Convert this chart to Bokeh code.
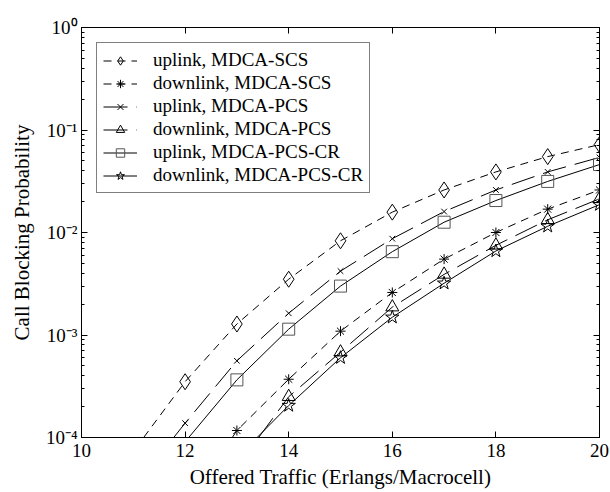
from bokeh.plotting import figure
from bokeh.models import (Range1d, LinearAxis, LogAxis, Legend, LegendItem,
                          CustomJSTickFormatter, FixedTicker, LogTicker)
from bokeh.embed import file_html
from bokeh.resources import INLINE

# ---- data ----
ul_scs_x = [12, 13, 14, 15, 16, 17, 18, 19, 20]
ul_scs_y = [3.5e-4, 1.28e-3, 3.5e-3, 8.3e-3, 1.58e-2, 2.6e-2, 3.9e-2, 5.5e-2, 7.2e-2]
ul_scs_x0 = 11.20

dl_scs_x = [13, 14, 15, 16, 17, 18, 19, 20]
dl_scs_y = [1.17e-4, 3.7e-4, 1.09e-3, 2.6e-3, 5.5e-3, 1.0e-2, 1.69e-2, 2.6e-2]
dl_scs_x0 = 12.91

ul_pcs_x = [12, 13, 14, 15, 16, 17, 18, 19, 20]
ul_pcs_y = [1.38e-4, 5.6e-4, 1.63e-3, 4.2e-3, 8.7e-3, 1.6e-2, 2.6e-2, 3.9e-2, 5.4e-2]
ul_pcs_x0 = 11.78

dl_pcs_x = [14, 15, 16, 17, 18, 19, 20]
dl_pcs_y = [2.5e-4, 6.8e-4, 1.87e-3, 3.9e-3, 7.5e-3, 1.33e-2, 2.13e-2]
dl_pcs_x0 = 13.42

ul_cr_x = [13, 14, 15, 16, 17, 18, 19, 20]
ul_cr_y = [3.65e-4, 1.14e-3, 3.0e-3, 6.5e-3, 1.26e-2, 2.05e-2, 3.15e-2, 4.6e-2]
ul_cr_x0 = 12.07

dl_cr_x = [14, 15, 16, 17, 18, 19, 20]
dl_cr_y = [2.05e-4, 6.0e-4, 1.49e-3, 3.2e-3, 6.6e-3, 1.15e-2, 1.87e-2]
dl_cr_x0 = 13.39

labels = ["uplink, MDCA-SCS", "downlink, MDCA-SCS", "uplink, MDCA-PCS",
          "downlink, MDCA-PCS", "uplink, MDCA-PCS-CR", "downlink, MDCA-PCS-CR"]

y_exponents = [-4, -3, -2, -1, 0]
y_tick_labels = ["10\u207b\u2074", "10\u207b\u00b3", "10\u207b\u00b2", "10\u207b\u00b9", "10\u2070"]
x_ticks = [10, 12, 14, 16, 18, 20]

FONT = "Liberation Serif"

p = figure(width=610, height=492, y_axis_type="log",
           x_range=Range1d(10, 20), y_range=Range1d(1e-4, 1),
           output_backend="svg", toolbar_location=None)
p.min_border_left = 81
p.min_border_right = 11
p.min_border_top = 27
p.min_border_bottom = 55
p.background_fill_color = "white"
p.border_fill_color = "white"
p.outline_line_color = "black"
p.outline_line_width = 1
p.xgrid.visible = False
p.ygrid.visible = False

# axes
xa = p.xaxis[0]
xa.ticker = FixedTicker(ticks=x_ticks)
xa.axis_label = "Offered Traffic (Erlangs/Macrocell)"
ya = p.yaxis[0]
ya.ticker = LogTicker(num_minor_ticks=10)
ya.formatter = CustomJSTickFormatter(
    args=dict(exps=y_exponents, labs=y_tick_labels),
    code="const e = Math.round(Math.log10(tick)); const i = exps.indexOf(e); return i >= 0 ? labs[i] : '';")
ya.axis_label = "Call Blocking Probability"
ya.major_label_standoff = 4
xa.major_label_standoff = 6

for ax in (xa, ya):
    ax.axis_label_text_font = FONT
    ax.axis_label_text_font_size = "21px"
    ax.axis_label_text_font_style = "normal"
    ax.axis_label_text_color = "black"
    ax.major_label_text_font = FONT
    ax.major_label_text_font_size = "19px"
    ax.major_label_text_color = "black"
    ax.axis_line_color = "black"
    ax.major_tick_in = 6
    ax.major_tick_out = 0
    ax.minor_tick_in = 3
    ax.minor_tick_out = 0
    ax.major_tick_line_color = "black"
    ax.minor_tick_line_color = "black"
xa.axis_label_standoff = 5
ya.axis_label_standoff = 9
xa.minor_tick_line_color = None

blank = CustomJSTickFormatter(code="return '';")
top = LinearAxis(ticker=FixedTicker(ticks=x_ticks), formatter=blank,
                 major_tick_in=6, major_tick_out=0, minor_tick_line_color=None,
                 major_label_standoff=0)
p.add_layout(top, "above")
right = LogAxis(ticker=LogTicker(num_minor_ticks=10), formatter=blank,
                major_tick_in=6, major_tick_out=0, minor_tick_in=3, minor_tick_out=0,
                major_label_standoff=0)
p.add_layout(right, "right")

series = [
    (ul_scs_x, ul_scs_y, ul_scs_x0, "diamond", 16, "8 6", "black"),
    (dl_scs_x, dl_scs_y, dl_scs_x0, "asterisk", 10, "8 6", "black"),
    (ul_pcs_x, ul_pcs_y, ul_pcs_x0, "x", 8, "24 9", "black"),
    (dl_pcs_x, dl_pcs_y, dl_pcs_x0, "triangle", 13, "24 9", "black"),
    (ul_cr_x, ul_cr_y, ul_cr_x0, "square", 12, "solid", "#555555"),
    (dl_cr_x, dl_cr_y, dl_cr_x0, "star", 14, "solid", "black"),
]

items = []
for (xs, ys, x0, mk, sz, dash, col), lab in zip(series, labels):
    lr = p.line([x0] + xs, [1e-4] + ys, line_color="black", line_width=1, line_dash=dash)
    mr = p.scatter(xs, ys, marker=mk, size=sz, fill_color=None, line_color=col, line_width=1)
    items.append(LegendItem(label=lab, renderers=[lr, mr]))

leg = Legend(items=items, location="top_left")
leg.margin = 15
leg.padding = 6
leg.spacing = 1
leg.glyph_width = 34
leg.glyph_height = 21
leg.label_height = 21
leg.label_standoff = 16
leg.label_text_font = FONT
leg.label_text_font_size = "19px"
leg.label_text_color = "black"
leg.border_line_color = "black"
leg.border_line_width = 1
leg.background_fill_color = "white"
leg.background_fill_alpha = 1
p.add_layout(leg)

open("out.html", "w").write(file_html(p, INLINE))
